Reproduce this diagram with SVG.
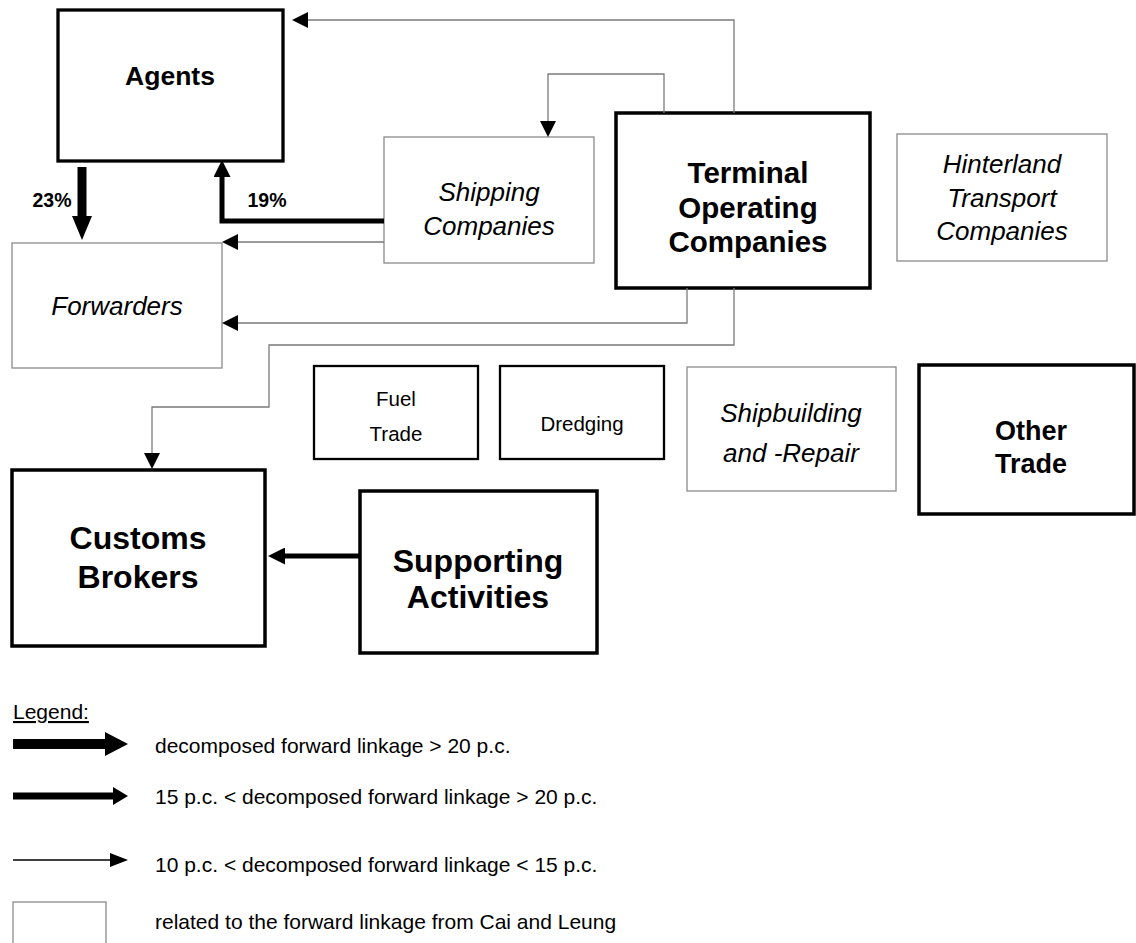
<svg xmlns="http://www.w3.org/2000/svg" width="1136" height="943" viewBox="0 0 1136 943">
<style>
.bg{fill:#ffffff}
.bx{fill:#ffffff;stroke:#000;stroke-width:3.5}
.bm{fill:#ffffff;stroke:#000;stroke-width:2.3}
.bg1{fill:#ffffff;stroke:#8a8a8a;stroke-width:1.3}
.c{fill:none;stroke:#7a7a7a;stroke-width:1.3}
.tk{fill:none;stroke:#000;stroke-linejoin:miter}
text{font-family:"Liberation Sans",Arial,sans-serif;fill:#000;text-anchor:middle}
.b{font-weight:bold}
.i{font-style:italic}
.lg{font-size:21px;text-anchor:start}
</style>
<defs>
<marker id="aThin" markerUnits="userSpaceOnUse" markerWidth="16" markerHeight="16" refX="0" refY="8" orient="auto"><path d="M0,0 L16,8 L0,16 z" fill="#000"/></marker>
<marker id="aMed" markerUnits="userSpaceOnUse" markerWidth="17" markerHeight="17" refX="0" refY="8.5" orient="auto"><path d="M0,0 L17,8.5 L0,17 z" fill="#000"/></marker>
<marker id="aBig" markerUnits="userSpaceOnUse" markerWidth="24" markerHeight="20" refX="0" refY="10" orient="auto"><path d="M0,0 L24,10 L0,20 z" fill="#000"/></marker>
<marker id="aL1" markerUnits="userSpaceOnUse" markerWidth="23" markerHeight="24" refX="0" refY="12" orient="auto"><path d="M0,0 L23,12 L0,24 z" fill="#000"/></marker>
<marker id="aL2" markerUnits="userSpaceOnUse" markerWidth="15" markerHeight="18" refX="0" refY="9" orient="auto"><path d="M0,0 L15,9 L0,18 z" fill="#000"/></marker>
<marker id="aL3" markerUnits="userSpaceOnUse" markerWidth="18" markerHeight="14" refX="0" refY="7" orient="auto"><path d="M0,0 L18,7 L0,14 z" fill="#000"/></marker>
</defs>
<rect class="bg" x="0" y="0" width="1136" height="943"/>

<g id="agents">
<rect x="58" y="10" width="225" height="151" fill="#fff" stroke="#000" stroke-width="3.3"/>
<text class="b" x="170" y="85" font-size="26.5">Agents</text>
</g>
<g id="shipping">
<rect class="bg1" x="384" y="137" width="210" height="126"/>
<text class="i" x="489" y="201" font-size="26">Shipping</text>
<text class="i" x="489" y="235" font-size="26">Companies</text>
</g>
<g id="terminal">
<rect class="bx" x="616" y="113" width="254" height="175" stroke-width="4"/>
<text class="b" x="748" y="183" font-size="29.5">Terminal</text>
<text class="b" x="748" y="218" font-size="29.5">Operating</text>
<text class="b" x="748" y="252" font-size="29.5">Companies</text>
</g>
<g id="hinterland">
<rect class="bg1" x="897" y="134" width="210" height="127"/>
<text class="i" x="1002" y="173" font-size="26">Hinterland</text>
<text class="i" x="1002" y="207" font-size="26">Transport</text>
<text class="i" x="1002" y="240" font-size="26">Companies</text>
</g>
<g id="forwarders">
<rect class="bg1" x="12" y="243" width="210" height="125"/>
<text class="i" x="117" y="315" font-size="26">Forwarders</text>
</g>
<g id="fuel">
<rect class="bm" x="314" y="366" width="164" height="93"/>
<text x="396" y="406" font-size="20.5">Fuel</text>
<text x="396" y="441" font-size="20.5">Trade</text>
</g>
<g id="dredging">
<rect class="bm" x="500" y="366" width="164" height="93"/>
<text x="582" y="431" font-size="20.5">Dredging</text>
</g>
<g id="shipbuilding">
<rect class="bg1" x="687" y="367" width="209" height="124"/>
<text class="i" x="791" y="422" font-size="26">Shipbuilding</text>
<text class="i" x="791" y="462" font-size="26">and -Repair</text>
</g>
<g id="othertrade">
<rect class="bx" x="919" y="365" width="215" height="149"/>
<text class="b" x="1031" y="440" font-size="27">Other</text>
<text class="b" x="1031" y="473" font-size="27">Trade</text>
</g>
<g id="customs">
<rect class="bx" x="12" y="470" width="253" height="176"/>
<text class="b" x="138" y="549" font-size="32">Customs</text>
<text class="b" x="138" y="588" font-size="32">Brokers</text>
</g>
<g id="supporting">
<rect class="bx" x="360" y="491" width="237" height="162"/>
<text class="b" x="478" y="572" font-size="32">Supporting</text>
<text class="b" x="478" y="608" font-size="32">Activities</text>
</g>

<g id="connectors">
<path class="c" d="M734,113 V20 H308" marker-end="url(#aThin)"/>
<path class="c" d="M664,113 V74 H548 V121" marker-end="url(#aThin)"/>
<path class="c" d="M384,242 H238" marker-end="url(#aThin)"/>
<path class="c" d="M687,288 V323 H238" marker-end="url(#aThin)"/>
<path class="c" d="M734,288 V345 H269 V407 H152 V453" marker-end="url(#aThin)"/>
<path class="tk" stroke-width="5" d="M384,221 H222 V177" marker-end="url(#aMed)"/>
<path class="tk" stroke-width="9" d="M82,167 V216" marker-end="url(#aBig)"/>
<path class="tk" stroke-width="5" d="M360,556 H285" marker-end="url(#aMed)"/>
<text class="b" x="52" y="207" font-size="19.5">23%</text>
<text class="b" x="267" y="207" font-size="19.5">19%</text>
</g>

<g id="legend">
<text class="lg" x="13" y="719" text-decoration="underline">Legend:</text>
<path class="tk" stroke-width="10" d="M13,744 H105" marker-end="url(#aL1)"/>
<text class="lg" x="155" y="753">decomposed forward linkage &gt; 20 p.c.</text>
<path class="tk" stroke-width="7" d="M13,796 H113" marker-end="url(#aL2)"/>
<text class="lg" x="155" y="804">15 p.c. &lt; decomposed forward linkage &gt; 20 p.c.</text>
<path class="tk" stroke-width="1.3" d="M13,860 H110" marker-end="url(#aL3)"/>
<text class="lg" x="155" y="872">10 p.c. &lt; decomposed forward linkage &lt; 15 p.c.</text>
<rect class="bg1" x="13" y="902" width="93" height="60"/>
<text class="lg" x="155" y="929">related to the forward linkage from Cai and Leung</text>
</g>
</svg>
